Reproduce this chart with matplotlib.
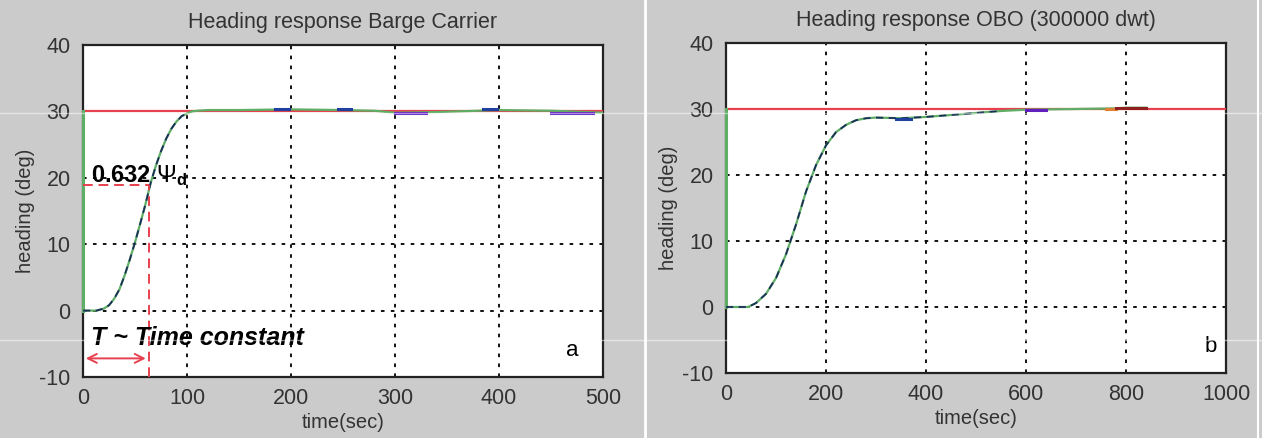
import matplotlib
matplotlib.use('Agg')
import matplotlib.pyplot as plt
from matplotlib.lines import Line2D

plt.rcParams['font.family'] = ['Liberation Sans', 'DejaVu Sans']
plt.rcParams['axes.unicode_minus'] = False
plt.rcParams['mathtext.fontset'] = 'custom'
plt.rcParams['mathtext.rm'] = 'Liberation Sans'
plt.rcParams['mathtext.it'] = 'Liberation Sans:italic'
plt.rcParams['mathtext.bf'] = 'Liberation Sans:bold'

# panel a - barge carrier
t_a = [0, 13, 20, 25, 30, 35, 40, 45, 50, 55, 60, 65, 70, 75, 80, 85, 90, 95, 100, 105, 110,
       120, 150, 200, 250, 280, 300, 340, 400, 450, 500]
h_a = [0, 0, 0.3, 0.8, 1.8, 3.2, 5.3, 7.7, 10.3, 13.1, 16.0, 19.2, 21.8, 24.0, 25.9, 27.4, 28.5,
       29.3, 29.7, 30.0, 30.1, 30.2, 30.2, 30.3, 30.2, 30.1, 29.8, 29.9, 30.2, 30.1, 29.8]
# blue / purple dash pieces sitting on the settled part
dash_a_start = [185, 245, 300, 385, 450]
dash_a_end = [198, 258, 330, 398, 490]
dash_a_val = [30.3, 30.3, 29.8, 30.3, 29.8]
dash_a_col = ['#2040a0', '#2040a0', '#6020c0', '#2040a0', '#6020c0']

# panel b - OBO 300000 dwt
t_b = [0, 44, 60, 80, 100, 120, 140, 160, 180, 200, 220, 240, 260, 280, 300, 350, 400, 450,
       500, 550, 600, 700, 780, 800, 840]
h_b = [0, 0, 0.6, 2.0, 4.4, 8.0, 12.5, 17.5, 21.5, 24.5, 26.5, 27.6, 28.3, 28.6, 28.7, 28.6,
       28.8, 29.1, 29.4, 29.7, 29.9, 30.0, 30.1, 30.2, 30.2]
dash_b_start = [340, 600, 760, 780]
dash_b_end = [370, 640, 780, 840]
dash_b_val = [28.5, 29.9, 30.0, 30.2]
dash_b_col = ['#2040a0', '#6020c0', '#e08030', '#902020']

psi_d = 30
T_const = 63
x_ticks_a = [0, 100, 200, 300, 400, 500]
x_ticks_b = [0, 200, 400, 600, 800, 1000]
y_ticks = [-10, 0, 10, 20, 30, 40]

bg = '#cbcbcb'
green = '#5fae66'
red = '#e8404f'
txt = '#333333'

fig = plt.figure(figsize=(12.62, 4.38), dpi=100, facecolor=bg)
ax_a = fig.add_axes([0.0658, 0.1393, 0.412, 0.758])
ax_b = fig.add_axes([0.5753, 0.1484, 0.3962, 0.7534])


def style(ax, xt, title):
    ax.set_facecolor('white')
    ax.set_xlim(xt[0], xt[-1])
    ax.set_ylim(-10, 40)
    ax.set_xticks(xt)
    ax.set_yticks(y_ticks)
    ax.tick_params(axis='x', direction='in', length=0, labelsize=15.5, colors=txt, pad=8)
    ax.tick_params(axis='y', direction='in', length=0, labelsize=15.5, colors=txt, pad=9)
    ax.grid(True, color='black', linestyle=(0, (2, 3.5)), linewidth=1.3)
    for s in ax.spines.values():
        s.set_linewidth(1.6)
        s.set_color('#222222')
    ax.set_title(title, fontsize=15.5, color=txt, pad=12)
    ax.set_xlabel('time(sec)', fontsize=14.5, color=txt, labelpad=3)
    ax.set_ylabel('heading (deg)', fontsize=14.5, color=txt, labelpad=3)


style(ax_a, x_ticks_a, 'Heading response Barge Carrier')
style(ax_b, x_ticks_b, 'Heading response OBO (300000 dwt)')

for ax, t, h, xs, xe, yv, cs in [(ax_a, t_a, h_a, dash_a_start, dash_a_end, dash_a_val, dash_a_col),
                                 (ax_b, t_b, h_b, dash_b_start, dash_b_end, dash_b_val, dash_b_col)]:
    ax.axhline(psi_d, color=red, lw=1.6, zorder=3)
    ax.plot([0, 0], [0, psi_d], color=green, lw=2.2, zorder=4, clip_on=False)
    ax.plot(t, h, color=green, lw=1.6, zorder=4)
    n = next(i for i, v in enumerate(h) if v >= 29.5)
    ax.plot(t[:n + 1], h[:n + 1], color='#1c2f5a', lw=1.3, linestyle=(0, (4, 3)), zorder=5)
    for a, b, v, c in zip(xs, xe, yv, cs):
        ax.plot([a, b], [v, v], color=c, lw=2.2, zorder=5)

# time constant construction on panel a
y63 = 0.632 * psi_d
ax_a.plot([0, T_const], [y63, y63], color=red, lw=1.4, linestyle=(0, (5, 3)), zorder=6)
ax_a.plot([T_const, T_const], [-10, y63], color=red, lw=1.4, linestyle=(0, (5, 3)), zorder=6)
ax_a.annotate('', xy=(0, -7.2), xytext=(T_const, -7.2),
              arrowprops=dict(arrowstyle='<->', color=red, lw=1.4, mutation_scale=16))
ax_a.text(8, 20.3, r'0.632 $\Psi_\mathbf{d}$', fontsize=17, fontweight='bold',
          color='black', va='center', zorder=7)
ax_a.text(8, -4.2, 'T ~ Time constant', fontsize=18, fontweight='bold', style='italic',
          color='black', va='center', zorder=7)
ax_a.text(470, -6, 'a', fontsize=16, ha='center', va='center')
ax_b.text(970, -6, 'b', fontsize=16, ha='center', va='center')

# scan artefacts: separator and faint light streaks
fig.add_artist(Line2D([645 / 1262, 645 / 1262], [0, 1], color='white', lw=2))
fig.add_artist(Line2D([1258 / 1262, 1258 / 1262], [0, 1], color='white', lw=1.5))
for yy in [113, 340]:
    fig.add_artist(Line2D([0, 1], [1 - yy / 438, 1 - yy / 438], color='white', lw=1, alpha=0.5))

fig.savefig('out.png', dpi=100, facecolor=bg)
